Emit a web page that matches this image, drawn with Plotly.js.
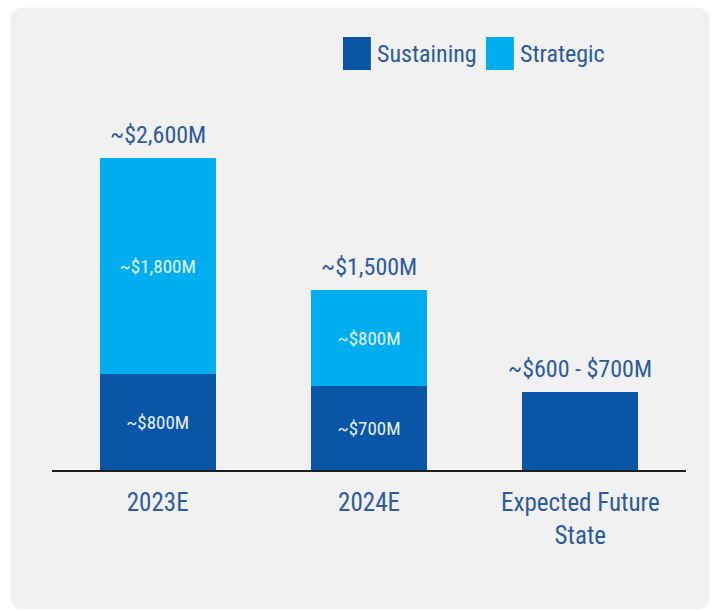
<!DOCTYPE html>
<html>
<head>
<meta charset="utf-8">
<script src="https://cdn.plot.ly/plotly-3.0.1.min.js"></script>
<style>
  html, body { margin: 0; padding: 0; background: #ffffff; width: 719px; height: 612px; overflow: hidden; }
  #chart { position: absolute; left: 11px; top: 8px; width: 698px; height: 601px;
           border-radius: 12px; overflow: hidden; background: #f1f1f1;
           box-shadow: 0 0 2px rgba(0,0,0,0.08); }
</style>
</head>
<body>
<div id="chart"></div>
<script>
const categories = ["2023E", "2024E", "Expected Future<br>State"];
const seriesNames = ["Sustaining", "Strategic"];
const sustaining = [800, 700, 650];
const strategic = [1800, 800, 0];
const sustainingLabels = ["~$800M", "~$700M", ""];
const strategicLabels = ["~$1,800M", "~$800M", ""];
const totalLabels = ["~$2,600M", "~$1,500M", "~$600 - $700M"];
const colors = ["#0a56a6", "#00adef"];

const FONT = "'Roboto Condensed', 'Arial Narrow', 'DejaVu Sans Condensed', sans-serif";
const TEXT_BLUE = "#2d5b9c";

const traces = [
  {
    type: "bar", name: seriesNames[0], x: categories, y: sustaining,
    marker: { color: colors[0] }, text: sustainingLabels,
    textposition: "inside", insidetextanchor: "middle",
    textfont: { family: FONT, size: 19, color: "#e6eff9" },
    hoverinfo: "skip", showlegend: false, width: 0.55
  },
  {
    type: "bar", name: seriesNames[1], x: categories, y: strategic,
    marker: { color: colors[1] }, text: strategicLabels,
    textposition: "inside", insidetextanchor: "middle",
    textfont: { family: FONT, size: 19, color: "#e6f4fc" },
    hoverinfo: "skip", showlegend: false, width: 0.55
  }
];

const totals = sustaining.map((v, i) => v + strategic[i]);
const annotations = categories.map((c, i) => ({
  x: c, y: totals[i], xref: "x", yref: "y",
  text: totalLabels[i], showarrow: false,
  yanchor: "bottom", yshift: 7,
  font: { family: FONT, size: 24, color: TEXT_BLUE }
}));

const legX = [0.459, 0.6845];
const swW = 0.044;
const shapes = [];
seriesNames.forEach((n, i) => {
  shapes.push({
    type: "rect", xref: "paper", yref: "paper",
    x0: legX[i], x1: legX[i] + swW, y0: 1.111, y1: 1.203,
    fillcolor: colors[i], line: { width: 0 }
  });
  annotations.push({
    xref: "paper", yref: "paper", x: legX[i] + swW + 0.006, y: 1.155,
    xanchor: "left", yanchor: "middle", showarrow: false,
    text: n, font: { family: FONT, size: 24, color: TEXT_BLUE }
  });
});

const layout = {
  width: 698, height: 601,
  margin: { l: 41, r: 23, t: 102, b: 139 },
  paper_bgcolor: "#f1f1f1", plot_bgcolor: "#f1f1f1",
  barmode: "stack", bargap: 0.45,
  showlegend: false,
  xaxis: {
    type: "category", showline: true, linecolor: "#1e1e1e", linewidth: 2,
    ticks: "", showgrid: false, zeroline: false,
    tickfont: { family: FONT, size: 25, color: TEXT_BLUE },
    ticklabelstandoff: 9
  },
  yaxis: {
    range: [0, 3000], visible: false, showgrid: false, zeroline: false, fixedrange: true
  },
  annotations: annotations,
  shapes: shapes
};

Plotly.newPlot("chart", traces, layout, { displayModeBar: false, staticPlot: true });
</script>
</body>
</html>
